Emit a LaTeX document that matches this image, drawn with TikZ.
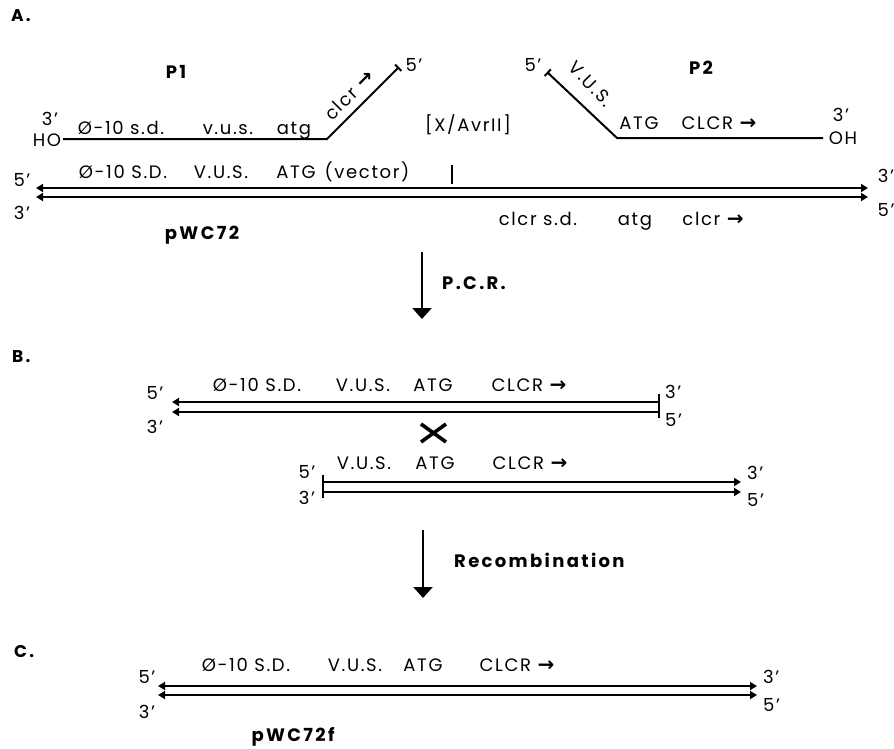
\documentclass[tikz,border=0pt]{standalone}
\usepackage{fontspec}
\setmainfont{Poppins}[LetterSpace=9]
\newfontfamily\bff{Poppins}[LetterSpace=13]
\newfontfamily\symf{DejaVu Sans}
\usetikzlibrary{arrows.meta}
\newcommand\myarr{{\symf\bfseries\fontsize{20}{20}\selectfont →}}
\begin{document}
\begin{tikzpicture}[x=1pt,y=-1pt,
  lbl/.style={font=\fontsize{18}{18}\selectfont, inner sep=0pt, anchor=base},
  rlbl/.style={font=\fontsize{18}{18}\selectfont, inner sep=0pt, anchor=center},
  blbl/.style={font=\bff\fontsize{18}{18}\selectfont\bfseries, inner sep=0pt, anchor=base},
  sec/.style={font=\bff\fontsize{17}{17}\selectfont\bfseries, inner sep=0pt, anchor=base west},
  strand/.style={line width=2pt},
  ltip/.style={{Triangle[length=7pt,width=8pt]}-},
  rtip/.style={-{Triangle[length=7pt,width=8pt]}},
  btip/.style={{Triangle[length=7pt,width=8pt]}-{Triangle[length=7pt,width=8pt]}},
  endbar/.style={line width=2.2pt},
  step arrow/.style={line width=2.5pt,-{Triangle[length=11pt,width=19pt]}}
]
\useasboundingbox (0,0) rectangle (894,748);

% ---------------- A ----------------
\node[sec] (secA) at (11,21) {A.};
\node[blbl] (P1) at (176,78) {P1};
\node[blbl] (P2) at (701,74) {P2};

% primer P1
\coordinate (p1s) at (63,139);
\coordinate (p1k) at (327,139);
\coordinate (p1e) at (399,67);
\draw[strand,-{Bar[width=9pt,line width=2pt]}] (p1s) -- (p1k) -- (p1e);
\node[lbl] (p1three) at (50,125) {3'};
\node[lbl] (p1HO) at (47,146) {HO};
\node[lbl] (p1five) at (414,71) {5'};
\node[lbl] (p1a) at (121,134) {Ø-10 s.d.};
\node[lbl] (p1b) at (228,134) {v.u.s.};
\node[lbl] (p1c) at (294,134) {atg};
\node[rlbl,rotate=45] (p1d) at (349,95) {clcr \myarr};

\node[lbl] (xav) at (468,131) {[X/AvrII]};

% primer P2
\coordinate (p2s) at (547,72);
\coordinate (p2k) at (617,138);
\coordinate (p2e) at (823,138);
\draw[strand,{Bar[width=9pt,line width=2pt]}-] (p2s) -- (p2k) -- (p2e);
\node[lbl] (p2five) at (533,71) {5'};
\node[rlbl,rotate=-46] (p2a) at (591,84) {V.U.S.};
\node[lbl] (p2b) at (639,129) {ATG};
\node[lbl] (p2c) at (719,129) {CLCR \myarr};
\node[lbl] (p2three) at (841,121) {3'};
\node[lbl] (p2OH) at (843,144) {OH};

% vector pWC72
\node[lbl] (va) at (123,178) {Ø-10 S.D.};
\node[lbl] (vb) at (221,178) {V.U.S.};
\node[lbl] (vc) at (296,178) {ATG};
\node[lbl] (vd) at (367,178) {(vector)};
\coordinate (vtl) at (36,188);  \coordinate (vtr) at (868,188);
\coordinate (vbl) at (36,197);  \coordinate (vbr) at (868,197);
\draw[strand,btip] (vtl) -- (vtr);
\draw[strand,btip] (vbl) -- (vbr);
\coordinate (tk1) at (452,165); \coordinate (tk2) at (452,184);
\draw[line width=2pt] (tk1) -- (tk2);
\node[lbl] (vl5) at (22,186) {5'};
\node[lbl] (vl3) at (22,219) {3'};
\node[lbl] (vr3) at (886,182) {3'};
\node[lbl] (vr5) at (886,216) {5'};
\node[lbl] (ve) at (538,225) {clcr s.d.};
\node[lbl] (vf) at (635,225) {atg};
\node[lbl] (vg) at (713,225) {clcr \myarr};
\node[blbl] (pwc) at (202,239) {pWC72};

% PCR arrow
\coordinate (pcr1) at (422,252); \coordinate (pcr2) at (422,319);
\draw[step arrow] (pcr1) -- (pcr2);
\node[blbl,anchor=base west] (pcr) at (442,289) {P.C.R.};

% ---------------- B ----------------
\node[sec] (secB) at (12,362) {B.};
\node[lbl] (b1a) at (257,391) {Ø-10 S.D.};
\node[lbl] (b1b) at (363,391) {V.U.S.};
\node[lbl] (b1c) at (433,391) {ATG};
\node[lbl] (b1d) at (529,391) {CLCR \myarr};
\coordinate (b1tl) at (172,402); \coordinate (b1tr) at (659,402);
\coordinate (b1bl) at (172,412); \coordinate (b1br) at (659,412);
\draw[strand,ltip] (b1tl) -- (b1tr);
\draw[strand,ltip] (b1bl) -- (b1br);
\coordinate (b1x1) at (659,394); \coordinate (b1x2) at (659,418);
\draw[endbar] (b1x1) -- (b1x2);
\node[lbl] (b1l5) at (155,399) {5'};
\node[lbl] (b1l3) at (155,433) {3'};
\node[lbl,anchor=base west] (b1r3) at (665,398) {3'};
\node[lbl,anchor=base west] (b1r5) at (665,426) {5'};

% crossover X
\coordinate (xa) at (421,424); \coordinate (xb) at (446,442);
\coordinate (xc) at (421,442); \coordinate (xd) at (446,424);
\draw[line width=3.6pt] (xa) -- (xb) (xc) -- (xd);

\node[lbl] (b2a) at (364,469) {V.U.S.};
\node[lbl] (b2b) at (435,469) {ATG};
\node[lbl] (b2c) at (530,469) {CLCR \myarr};
\coordinate (b2tl) at (323,482); \coordinate (b2tr) at (741,482);
\coordinate (b2bl) at (323,492); \coordinate (b2br) at (741,492);
\draw[strand,rtip] (b2tl) -- (b2tr);
\draw[strand,rtip] (b2bl) -- (b2br);
\coordinate (b2x1) at (323,475); \coordinate (b2x2) at (323,498);
\draw[endbar] (b2x1) -- (b2x2);
\node[lbl] (b2l5) at (307,478) {5'};
\node[lbl] (b2l3) at (307,504) {3'};
\node[lbl,anchor=base west] (b2r3) at (747,479) {3'};
\node[lbl,anchor=base west] (b2r5) at (747,506) {5'};

% Recombination arrow
\coordinate (rc1) at (423,530); \coordinate (rc2) at (423,598);
\draw[step arrow] (rc1) -- (rc2);
\node[blbl,anchor=base west] (rec) at (454,567) {Recombination};

% ---------------- C ----------------
\node[sec] (secC) at (14,657) {C.};
\node[lbl] (ca) at (246,671) {Ø-10 S.D.};
\node[lbl] (cb) at (355,671) {V.U.S.};
\node[lbl] (cc) at (423,671) {ATG};
\node[lbl] (cd) at (517,671) {CLCR \myarr};
\coordinate (ctl) at (158,686); \coordinate (ctr) at (757,686);
\coordinate (cbl) at (158,695); \coordinate (cbr) at (757,695);
\draw[strand,btip] (ctl) -- (ctr);
\draw[strand,btip] (cbl) -- (cbr);
\node[lbl] (cl5) at (147,683) {5'};
\node[lbl] (cl3) at (147,718) {3'};
\node[lbl,anchor=base west] (cr3) at (763,683) {3'};
\node[lbl,anchor=base west] (cr5) at (763,711) {5'};
\node[blbl] (pwcf) at (293,741) {pWC72f};
\end{tikzpicture}
\end{document}
